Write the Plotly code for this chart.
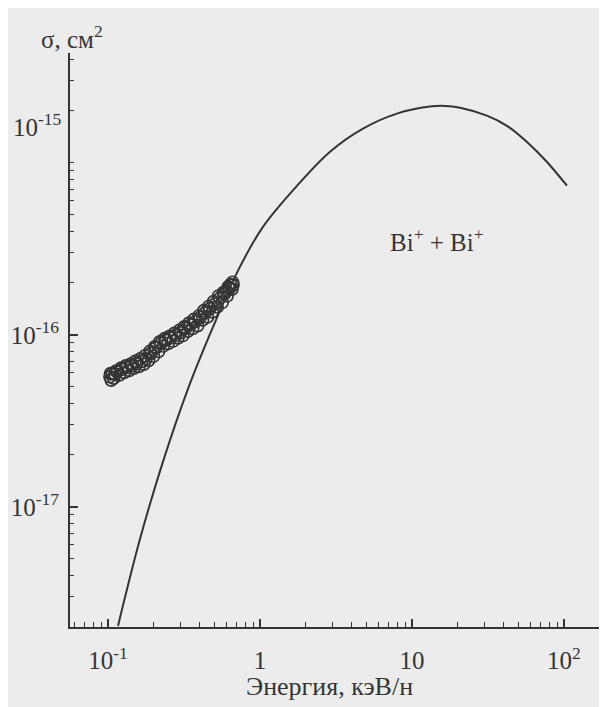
import plotly.graph_objects as go
import numpy as np

# Theory curve (energy keV/u, cross section cm^2)
curve_E = [0.1164, 0.1625, 0.230, 0.336, 0.491, 0.717, 1.046, 1.75, 2.89,
           4.76, 7.96, 13.1, 16.5, 20.7, 31.1, 42.1, 57.1, 77.3, 104.6]
curve_sigma = [2.03e-18, 6.51e-18, 1.83e-17, 4.85e-17, 1.11e-16, 2.36e-16, 4.24e-16,
               7.34e-16, 1.16e-15, 1.58e-15, 1.93e-15, 2.12e-15, 2.14e-15,
               2.09e-15, 1.88e-15, 1.64e-15, 1.32e-15, 1.01e-15, 7.35e-16]

# Experimental points
exp_E = [0.103, 0.104, 0.105, 0.107, 0.109, 0.111, 0.113, 0.115, 0.119, 0.122,
         0.124, 0.128, 0.131, 0.133, 0.138, 0.141, 0.143, 0.148, 0.151, 0.154,
         0.160, 0.163, 0.166, 0.172, 0.175, 0.178, 0.185, 0.189, 0.192, 0.199,
         0.203, 0.207, 0.215, 0.219, 0.223, 0.231, 0.236, 0.240, 0.249, 0.254,
         0.258, 0.268, 0.273, 0.278, 0.289, 0.295, 0.300, 0.311, 0.317, 0.323,
         0.335, 0.341, 0.348, 0.361, 0.368, 0.375, 0.389, 0.397, 0.404, 0.419,
         0.427, 0.435, 0.451, 0.460, 0.468, 0.486, 0.495, 0.504, 0.523, 0.533,
         0.543, 0.564, 0.574, 0.585, 0.607, 0.618, 0.630, 0.654, 0.665, 0.640,
         0.600, 0.660]
exp_sigma_e17 = [5.70, 5.95, 5.45, 5.95, 5.60, 5.90, 6.15, 6.10, 5.85, 6.40,
                 6.30, 6.05, 6.60, 6.45, 6.20, 6.75, 6.60, 6.40, 7.00, 6.80,
                 6.55, 7.25, 7.00, 6.75, 7.55, 7.25, 7.10, 8.00, 7.80, 7.50,
                 8.50, 8.40, 8.00, 9.10, 8.90, 8.60, 9.50, 9.30, 8.90, 9.80,
                 9.60, 9.20, 10.2, 9.90, 9.60, 10.6, 10.3, 9.90, 11.1, 10.9,
                 10.5, 11.7, 11.4, 10.9, 12.3, 11.9, 11.3, 12.9, 12.6, 12.2,
                 13.8, 13.4, 12.7, 14.6, 14.2, 13.6, 15.6, 15.1, 14.5, 16.8,
                 16.3, 15.4, 17.6, 17.3, 16.8, 19.0, 18.6, 18.4, 19.5, 19.6,
                 18.0, 20.2]
exp_sigma = [v * 1e-17 for v in exp_sigma_e17]

x_tickvals = [0.1, 1, 10, 100]
x_ticktext = ["10<sup>-1</sup>", "1", "10", "10<sup>2</sup>"]
y_tickvals = [1e-17, 1e-16]
y_ticktext = ["10<sup>-17</sup>", "10<sup>-16</sup>"]

x_minor = [k * 10.0 ** d for d in (-2, -1, 0, 1, 2) for k in range(2, 10)]
y_minor = [k * 10.0 ** d for d in (-18, -17, -16, -15) for k in range(1, 10)
           if k * 10.0 ** d not in (1e-17, 1e-16)]

ink = "#343434"
bg = "#ececec"
font = "Liberation Serif, Times New Roman, serif"

fig = go.Figure()
fig.add_trace(go.Scatter(x=curve_E, y=curve_sigma, mode="lines",
                         line=dict(color=ink, width=2, shape="spline", smoothing=1.0),
                         showlegend=False, hoverinfo="skip"))
fig.add_trace(go.Scatter(x=exp_E, y=exp_sigma, mode="markers",
                         marker=dict(symbol="circle-open", size=12, color=ink,
                                     line=dict(width=1.7, color=ink)),
                         showlegend=False))

# Note: the page body has an 8px margin, so the figure is offset by (8, 8).
fig.update_layout(
    width=599, height=699,
    margin=dict(l=62, r=0, t=45, b=80),
    paper_bgcolor=bg, plot_bgcolor=bg,
    font=dict(family=font, size=25, color=ink),
    xaxis=dict(type="log", range=[-1.25, 2.283], showgrid=False, zeroline=False,
               showline=True, linecolor=ink, linewidth=2,
               ticks="inside", ticklen=8, tickwidth=1.5, tickcolor=ink,
               tickmode="array", tickvals=x_tickvals, ticktext=x_ticktext,
               ticklabelstandoff=10,
               minor=dict(ticks="inside", ticklen=5, tickwidth=1.2, tickcolor=ink,
                          tickmode="array", tickvals=x_minor, showgrid=False)),
    yaxis=dict(type="log", range=[np.log10(2e-18), -14.362], showgrid=False, zeroline=False,
               showline=True, linecolor=ink, linewidth=2,
               ticks="inside", ticklen=8, tickwidth=1.5, tickcolor=ink,
               tickmode="array", tickvals=y_tickvals, ticktext=y_ticktext,
               ticklabelstandoff=4,
               minor=dict(ticks="inside", ticklen=4, tickwidth=1.2, tickcolor=ink,
                          tickmode="array", tickvals=y_minor, showgrid=False)),
    annotations=[
        dict(text="σ, см<sup>2</sup>", xref="paper", yref="paper", x=0.004, y=1.028,
             xanchor="center", yanchor="middle", showarrow=False,
             font=dict(family=font, size=25, color=ink)),
        dict(text="10<sup>-15</sup>", xref="paper", yref="y", x=0, y=-14.78,
             xanchor="right", yanchor="middle", xshift=-6, showarrow=False,
             font=dict(family=font, size=25, color=ink)),
        dict(text="Энергия, кэВ/н", xref="paper", yref="paper", x=0.484, y=-0.1045,
             xanchor="center", yanchor="middle", showarrow=False,
             font=dict(family=font, size=26, color=ink)),
        dict(text="Bi<sup>+</sup> + Bi<sup>+</sup>", xref="x", yref="y", x=1.165, y=-15.45,
             xanchor="center", yanchor="middle", showarrow=False,
             font=dict(family=font, size=25, color=ink)),
    ],
)

fig.write_html("out.html")
